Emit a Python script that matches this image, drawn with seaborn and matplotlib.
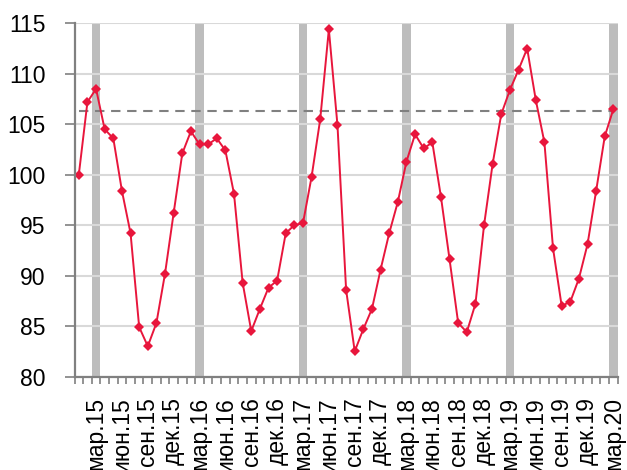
import numpy as np
import pandas as pd
import matplotlib
matplotlib.use("Agg")
import matplotlib.pyplot as plt
import seaborn as sns

# ---- data ----
months = ["янв", "фев", "мар", "апр", "май", "июн",
          "июл", "авг", "сен", "окт", "ноя", "дек"]
years = ["15", "16", "17", "18", "19", "20"]

values = [
    100.0, 107.2, 108.5, 104.5, 103.6, 98.4, 94.2, 84.9, 83.0, 85.3, 90.2, 96.2,   # 2015
    102.1, 104.3, 103.0, 103.0, 103.6, 102.4, 98.1, 89.3, 84.5, 86.7, 88.8, 89.5,  # 2016
    94.2, 95.0, 95.2, 99.8, 105.5, 114.4, 104.9, 88.6, 82.5, 84.7, 86.7, 90.6,     # 2017
    94.2, 97.3, 101.3, 104.0, 102.6, 103.2, 97.8, 91.6, 85.3, 84.4, 87.2, 95.0,    # 2018
    101.1, 106.0, 108.4, 110.4, 112.5, 107.4, 103.2, 92.7, 87.0, 87.4, 89.7, 93.1, # 2019
    98.4, 103.8, 106.5,                                                             # 2020
]
reference_level = 106.3
highlight_month = "мар"
highlight_height = 115

month_labels = [f"{m}.{y}" for y in years for m in months][:len(values)]
shown_months = ["мар", "июн", "сен", "дек"]

df = pd.DataFrame({
    "pos": np.arange(len(values)),
    "label": month_labels,
    "value": values,
    "ref": [reference_level] * len(values),
})
df["band"] = [highlight_height if l.startswith(highlight_month) else np.nan
              for l in df["label"]]

# ---- style ----
sns.set_theme(style="white")
plt.rcParams["font.family"] = ["Liberation Sans", "DejaVu Sans"]

W, H = 627, 470
fig = plt.figure(figsize=(W / 100, H / 100), dpi=100)
ax = fig.add_axes([74.5 / W, 1 - 376.5 / H, (617.7 - 74.5) / W, (376.5 - 23.3) / H])

# gray bands at March
sns.barplot(data=df, x="pos", y="band", native_scale=True, width=1.0,
            color="#BDBDBD", saturation=1, edgecolor="none", ax=ax, zorder=1)

# reference dashed line
sns.lineplot(data=df, x="pos", y="ref", color="#808080", linewidth=1.5,
             linestyle=(0, (4.5, 3.2)), ax=ax, zorder=3)

# main series
sns.lineplot(data=df, x="pos", y="value", color="#E8163C", linewidth=1.4,
             marker="D", markersize=5, markeredgewidth=0,
             ax=ax, zorder=4)

ax.set_xlim(-0.5, len(values) - 0.5)
ax.set_ylim(80, 115)
ax.set_yticks(np.arange(80, 116, 5))
ax.yaxis.grid(True, color="#D9D9D9", linewidth=1.5, zorder=2)
ax.set_axisbelow(False)
for gl in ax.get_ygridlines():
    gl.set_zorder(2)

tick_pos = [i for i, l in enumerate(month_labels) if l.split(".")[0] in shown_months]
ax.set_xticks(tick_pos)
ax.set_xticklabels([month_labels[i] for i in tick_pos], rotation=90, fontsize=16.5)
ax.set_xticks(np.arange(-0.5, len(values), 1), minor=True)
ax.tick_params(axis="x", which="major", length=0, pad=15)
ax.tick_params(axis="x", which="minor", length=5, width=1.2, color="#808080",
               direction="out", bottom=True)
ax.tick_params(axis="y", length=7, width=1.2, color="#808080", direction="out",
               left=True, pad=14, labelsize=16.5)
ax.set_xlabel("")
ax.set_ylabel("")
ax.tick_params(labelcolor="#000000")

for s in ["top", "right"]:
    ax.spines[s].set_visible(False)
for s in ["left", "bottom"]:
    ax.spines[s].set_color("#808080")
    ax.spines[s].set_linewidth(1.6)
    ax.spines[s].set_zorder(5)

legend = ax.get_legend()
if legend:
    legend.remove()

fig.savefig("out.png", dpi=100)
